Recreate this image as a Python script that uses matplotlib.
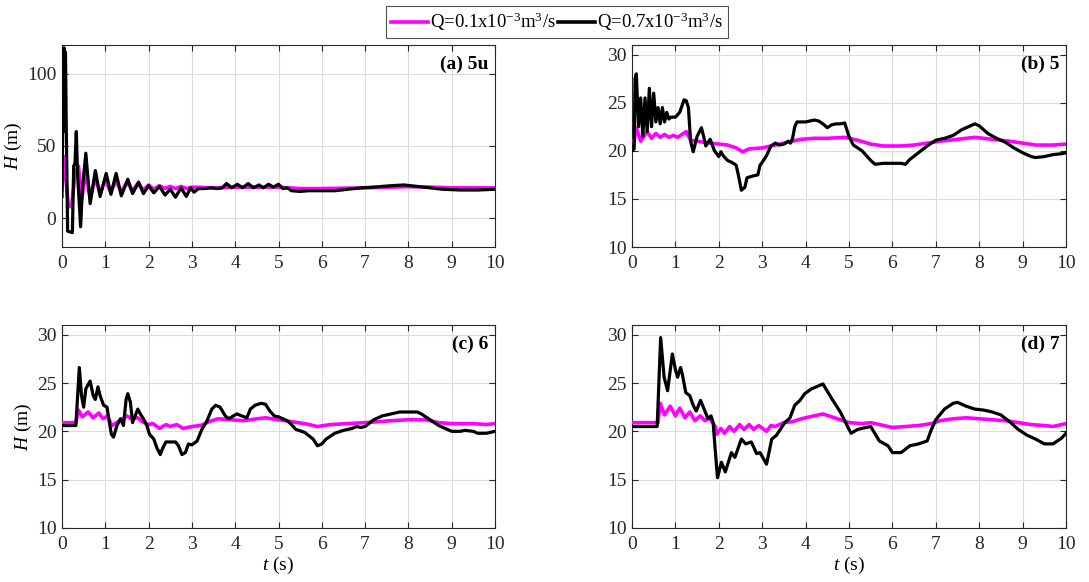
import matplotlib
matplotlib.use("Agg")
import matplotlib.pyplot as plt
from matplotlib.lines import Line2D

plt.rcParams['font.family'] = ['Liberation Serif', 'DejaVu Serif']
plt.rcParams['mathtext.fontset'] = 'custom'
plt.rcParams['mathtext.rm'] = 'Liberation Serif'
plt.rcParams['mathtext.it'] = 'Liberation Serif:italic'
plt.rcParams['mathtext.bf'] = 'Liberation Serif:bold'
plt.rcParams['font.size'] = 14

MAG = '#FF00FF'

# ---------------- data ----------------
# Panel (a) 5u
a_t_low = [0, 0.03, 0.08, 0.15, 0.22, 0.3, 0.38, 0.45, 0.55, 0.65, 0.77, 0.88, 1.0, 1.12,
           1.25, 1.37, 1.5, 1.63, 1.75, 1.88, 2.0, 2.12, 2.25, 2.38, 2.5, 2.62, 2.75, 2.88,
           3.0, 3.5, 4.0, 4.5, 5.0, 5.5, 6.0, 7.0, 8.0, 8.5, 9.0, 10.0]
a_h_low = [20, 43, 30, 8, 8, 30, 36, 12, 32, 14, 28, 17, 27, 18,
           26, 18, 25, 19, 24, 19.5, 23, 20, 22.5, 20.5, 22, 20.5, 22, 20.5,
           21.5, 21, 21.5, 21.5, 21.5, 20.5, 20.5, 21, 21.8, 21.5, 21, 21]
a_t_high = [0, 0.02, 0.035, 0.05, 0.065, 0.08, 0.1, 0.13, 0.24, 0.27, 0.3, 0.33, 0.36, 0.43,
            0.47, 0.55, 0.65, 0.77, 0.88, 1.02, 1.13, 1.25, 1.37, 1.52, 1.63, 1.77, 1.88,
            2.0, 2.12, 2.25, 2.38, 2.5, 2.62, 2.75, 2.87, 2.97, 3.05, 3.15, 3.3, 3.45, 3.6,
            3.7, 3.8, 3.92, 4.05, 4.17, 4.3, 4.42, 4.55, 4.65, 4.77, 4.88, 5.0, 5.1, 5.2,
            5.3, 5.5, 5.7, 6.0, 6.3, 6.6, 6.9, 7.2, 7.6, 7.9, 8.2, 8.5, 8.8, 9.2, 9.6, 10.0]
a_h_high = [15, 80, 60, 118, 90, 115, 60, -9, -10, 36, 38, 60, 30, -6,
            20, 45, 10, 33, 15, 31, 16.5, 31, 15.5, 27, 17, 25, 17,
            22.5, 17.5, 22, 16, 20, 14.5, 21, 15, 21, 18, 20.5, 20.5, 21, 20.5,
            21, 24, 21, 23.5, 21, 24, 21, 23, 21, 23.5, 21.5, 23.5, 20.5, 21,
            19, 18.5, 19, 19, 19, 20, 21, 21.5, 22.5, 23, 22, 21, 20, 19.5, 19.5, 20]

# Panel (b) 5
b_t_low = [0, 0.05, 0.1, 0.2, 0.35, 0.45, 0.55, 0.65, 0.75, 0.85, 0.95, 1.05, 1.25, 1.35,
           1.5, 1.8, 2.0, 2.2, 2.4, 2.55, 2.7, 3.0, 3.3, 3.6, 3.9, 4.2, 4.5, 4.9, 5.2, 5.5,
           5.8, 6.2, 6.5, 6.8, 7.1, 7.5, 7.9, 8.3, 8.7, 9.0, 9.3, 9.7, 10.0]
b_h_low = [21, 21, 22.4, 21.0, 22.0, 21.3, 21.8, 21.4, 21.7, 21.4, 21.6, 21.4, 22.0, 21.1,
           21.0, 20.8, 20.7, 20.6, 20.3, 19.9, 20.2, 20.3, 20.6, 20.9, 21.2, 21.3, 21.3, 21.4, 21.1, 20.7,
           20.5, 20.5, 20.6, 20.8, 21.0, 21.2, 21.4, 21.2, 21.0, 20.8, 20.6, 20.6, 20.7]
b_t_high = [0, 0.05, 0.07, 0.1, 0.15, 0.2, 0.25, 0.3, 0.35, 0.4, 0.45, 0.5, 0.55, 0.6, 0.65,
            0.7, 0.75, 0.8, 0.85, 0.9, 1.0, 1.1, 1.2, 1.25, 1.3, 1.35, 1.41, 1.5, 1.6, 1.65,
            1.7, 1.8, 1.9, 2.0, 2.05, 2.1, 2.2, 2.3, 2.4, 2.45, 2.52, 2.6, 2.65, 2.8, 2.9,
            2.95, 3.0, 3.1, 3.2, 3.3, 3.4, 3.5, 3.6, 3.65, 3.7, 3.75, 3.8, 4.0, 4.2, 4.3,
            4.4, 4.5, 4.6, 4.7, 4.8, 4.9, 5.0, 5.1, 5.3, 5.5, 5.6, 5.8, 6.0, 6.2, 6.3, 6.4,
            6.6, 6.8, 7.0, 7.2, 7.4, 7.6, 7.8, 7.9, 8.0, 8.2, 8.4, 8.6, 8.8, 9.0, 9.2, 9.3,
            9.5, 9.7, 9.9, 10.0]
b_h_high = [20, 20.2, 27.5, 28, 22.5, 25.5, 21.5, 25.5, 22, 26.5, 22.5, 26, 23, 24.5, 22.8,
            24.5, 23, 24, 23.3, 23.5, 23.5, 24, 25.3, 25.2, 24.5, 21, 19.9, 21.5, 22.4, 21.5,
            20.5, 21.2, 20, 19.4, 19.9, 19.5, 19, 18.8, 18.5, 17.5, 15.9, 16.2, 17.2, 17.4, 17.5,
            18.5, 18.8, 19.5, 20.5, 20.8, 20.6, 20.7, 21, 20.8, 21.3, 22.5, 23, 23, 23.2, 23.1,
            22.8, 22.4, 22.7, 22.8, 22.8, 22.9, 21.5, 20.6, 20, 19, 18.6, 18.7, 18.7, 18.7, 18.6, 19.1,
            19.8, 20.5, 21.1, 21.3, 21.6, 22.2, 22.6, 22.8, 22.6, 21.8, 21.3, 20.9, 20.3, 19.8, 19.4, 19.3,
            19.4, 19.6, 19.7, 19.8]

# Panel (c) 6
c_t_low = [0, 0.32, 0.38, 0.47, 0.6, 0.72, 0.85, 0.95, 1.05, 1.15, 1.3, 1.5, 1.6, 1.75, 1.85,
           2.0, 2.1, 2.25, 2.4, 2.5, 2.65, 2.8, 3.0, 3.2, 3.4, 3.6, 3.9, 4.2, 4.5, 4.7, 5.0,
           5.3, 5.6, 5.9, 6.2, 6.6, 7.0, 7.3, 7.6, 8.0, 8.4, 8.7, 9.0, 9.5, 9.8, 10.0]
c_h_low = [20.9, 20.9, 22.2, 21.5, 22.0, 21.4, 21.9, 21.3, 21.6, 20.6, 21.0, 21.6, 21.3, 21.4, 21.0,
           20.7, 20.8, 20.3, 20.7, 20.5, 20.7, 20.3, 20.5, 20.6, 21.0, 21.3, 21.2, 21.1, 21.3, 21.4, 21.2,
           21.0, 20.8, 20.5, 20.7, 20.8, 20.9, 21.0, 21.1, 21.2, 21.2, 20.9, 20.8, 20.8, 20.7, 20.8]
c_t_high = [0, 0.32, 0.4, 0.45, 0.5, 0.55, 0.65, 0.72, 0.77, 0.83, 0.88, 0.96, 1.04, 1.08,
            1.14, 1.19, 1.27, 1.35, 1.42, 1.48, 1.52, 1.58, 1.63, 1.69, 1.75, 1.81, 1.88, 1.96,
            2.02, 2.12, 2.19, 2.27, 2.32, 2.4, 2.62, 2.69, 2.77, 2.85, 2.92, 3.0, 3.12, 3.23,
            3.35, 3.46, 3.55, 3.65, 3.77, 3.85, 3.96, 4.04, 4.15, 4.27, 4.35, 4.46, 4.6, 4.7,
            4.8, 4.9, 5.0, 5.2, 5.3, 5.4, 5.6, 5.8, 5.9, 6.0, 6.1, 6.3, 6.5, 6.7, 6.8, 6.9,
            7.0, 7.2, 7.4, 7.6, 7.8, 8.0, 8.2, 8.3, 8.5, 8.7, 8.9, 9.0, 9.2, 9.3, 9.5, 9.6,
            9.8, 10.0]
c_h_high = [20.6, 20.6, 26.6, 23.7, 22.5, 24.4, 25.2, 23.7, 23.3, 24.6, 23.7, 22.7, 22.5, 21.3,
            19.7, 19.4, 20.6, 21.3, 20.6, 23.3, 23.9, 23.0, 20.9, 21.6, 22.3, 21.8, 21.3, 20.6,
            19.7, 19.2, 18.3, 17.6, 18.2, 18.9, 18.9, 18.5, 17.6, 17.8, 18.7, 18.6, 19.0, 20.2,
            21.1, 22.3, 22.7, 22.5, 21.6, 21.3, 21.6, 21.8, 21.6, 21.4, 22.3, 22.7, 22.9, 22.8,
            22.1, 21.6, 21.5, 21.1, 20.7, 20.2, 19.9, 19.2, 18.5, 18.7, 19.2, 19.8, 20.1, 20.3, 20.5, 20.4,
            20.5, 21.2, 21.6, 21.8, 22.0, 22.0, 22.0, 21.8, 21.2, 20.6, 20.2, 20.0, 20.0, 20.1, 20.0, 19.8,
            19.8, 20.0]

# Panel (d) 7
d_t_low = [0, 0.6, 0.65, 0.75, 0.88, 1.0, 1.1, 1.22, 1.33, 1.45, 1.57, 1.68, 1.78, 1.87, 1.92,
           1.95, 2.05, 2.13, 2.25, 2.35, 2.48, 2.58, 2.7, 2.8, 2.92, 3.1, 3.2, 3.3, 3.5, 3.7,
           3.9, 4.1, 4.3, 4.4, 4.6, 4.8, 5.0, 5.3, 5.5, 5.8, 6.0, 6.3, 6.6, 6.9, 7.1, 7.4,
           7.7, 8.0, 8.3, 8.6, 8.9, 9.2, 9.5, 9.7, 10.0]
d_h_low = [20.9, 20.9, 22.9, 21.7, 22.6, 21.6, 22.4, 21.4, 22.0, 21.1, 21.6, 21.1, 21.4, 20.8, 20.5,
           19.7, 20.3, 19.8, 20.5, 20.0, 20.7, 20.2, 20.7, 20.2, 20.6, 20.0, 20.6, 20.5, 20.9, 21.0,
           21.3, 21.5, 21.7, 21.8, 21.5, 21.2, 20.9, 20.8, 20.9, 20.6, 20.4, 20.5, 20.6, 20.8, 21.1, 21.3,
           21.4, 21.3, 21.2, 21.1, 20.9, 20.7, 20.6, 20.5, 20.8]
d_t_high = [0, 0.58, 0.66, 0.74, 0.82, 0.93, 1.0, 1.05, 1.12, 1.16, 1.24, 1.33, 1.41, 1.48,
            1.58, 1.68, 1.75, 1.82, 1.87, 1.91, 1.97, 2.06, 2.15, 2.29, 2.37, 2.52, 2.62, 2.75,
            2.87, 2.95, 3.1, 3.22, 3.33, 3.52, 3.64, 3.75, 3.87, 3.98, 4.14, 4.4, 4.6, 4.8,
            5.0, 5.05, 5.2, 5.5, 5.7, 5.9, 6.0, 6.2, 6.4, 6.6, 6.8, 6.9, 7.0, 7.2, 7.4, 7.5,
            7.7, 7.9, 8.1, 8.3, 8.5, 8.7, 8.9, 9.1, 9.3, 9.5, 9.7, 9.9, 10.0]
d_h_high = [20.5, 20.5, 29.7, 25.6, 24.2, 28.0, 26.4, 25.6, 26.6, 25.9, 24.0, 23.7, 22.7, 22.1,
            23.2, 22.1, 21.3, 21.6, 20.9, 18.5, 15.2, 16.8, 15.8, 17.8, 17.3, 19.2, 18.7, 18.9,
            17.7, 17.8, 16.6, 19.2, 19.6, 20.9, 21.4, 22.7, 23.2, 23.9, 24.4, 24.9, 23.4, 22.0,
            20.2, 19.8, 20.2, 20.5, 19.0, 18.5, 17.8, 17.8, 18.5, 18.7, 19.0, 20.2, 21.2, 22.3, 22.9, 23.0,
            22.6, 22.3, 22.2, 22.0, 21.7, 21.0, 20.2, 19.6, 19.2, 18.7, 18.7, 19.3, 19.8]

panel_labels = ['(a) 5u', '(b) 5', '(c) 6', '(d) 7']
legend_labels = [r'Q=0.1x10$^{-3}$m$^{3}$/s', r'Q=0.7x10$^{-3}$m$^{3}$/s']
x_ticks = list(range(0, 11))
y_ticks_a = [0, 50, 100]
y_ticks_bcd = [10, 15, 20, 25, 30]

series = [
    (a_t_low, a_h_low, a_t_high, a_h_high),
    (b_t_low, b_h_low, b_t_high, b_h_high),
    (c_t_low, c_h_low, c_t_high, c_h_high),
    (d_t_low, d_h_low, d_t_high, d_h_high),
]

# ---------------- figure ----------------
W, H = 1089, 582
fig = plt.figure(figsize=(W / 100, H / 100), dpi=100)

boxes = [(62, 45, 433, 202), (632, 45, 434, 202), (62, 325, 433, 203), (632, 325, 434, 203)]
axes = []
for (x0, y0, w, h) in boxes:
    axes.append(fig.add_axes([x0 / W, 1 - (y0 + h) / H, w / W, h / H]))

for i, ax in enumerate(axes):
    tl, hl, th, hh = series[i]
    ax.plot(tl, hl, color=MAG, lw=2.6, zorder=3)
    ax.plot(th, hh, color='black', lw=2.3, zorder=4)
    ax.set_xlim(0, 10)
    ax.set_xticks(x_ticks)
    if i == 0:
        ax.set_ylim(-20, 120)
        ax.set_yticks(y_ticks_a)
    else:
        ax.set_ylim(10, 31)
        ax.set_yticks(y_ticks_bcd)
    ax.grid(True, color='#dcdcdc', lw=0.8)
    ax.set_axisbelow(True)
    ax.tick_params(direction='in', top=True, right=True, length=4, width=0.8,
                   colors='#262626', labelsize=14)
    ax.tick_params(axis='x', pad=6)
    ax.tick_params(axis='y', pad=4)
    for s in ax.spines.values():
        s.set_color('#262626')
        s.set_linewidth(0.8)
    ax.text(0.985, 0.945, panel_labels[i], transform=ax.transAxes, ha='right', va='top',
            fontweight='bold', fontsize=14)
    if i in (0, 2):
        ax.set_ylabel(r'$H$ (m)', fontsize=14, labelpad=2)
    if i in (2, 3):
        ax.set_xlabel(r'$t$ (s)', fontsize=14, labelpad=1)

handles = [Line2D([], [], color=MAG, lw=2.6), Line2D([], [], color='black', lw=2.6)]
leg = fig.legend(handles, legend_labels, ncol=2, loc='upper center',
                 bbox_to_anchor=(557 / W, 1 - 6 / H), frameon=True, fancybox=False,
                 edgecolor='#262626', fontsize=13.5, handlelength=2.0, handletextpad=0.1,
                 columnspacing=0.1, borderpad=0.25, borderaxespad=0)
leg.get_frame().set_linewidth(0.8)

fig.savefig('out.png', dpi=100)
